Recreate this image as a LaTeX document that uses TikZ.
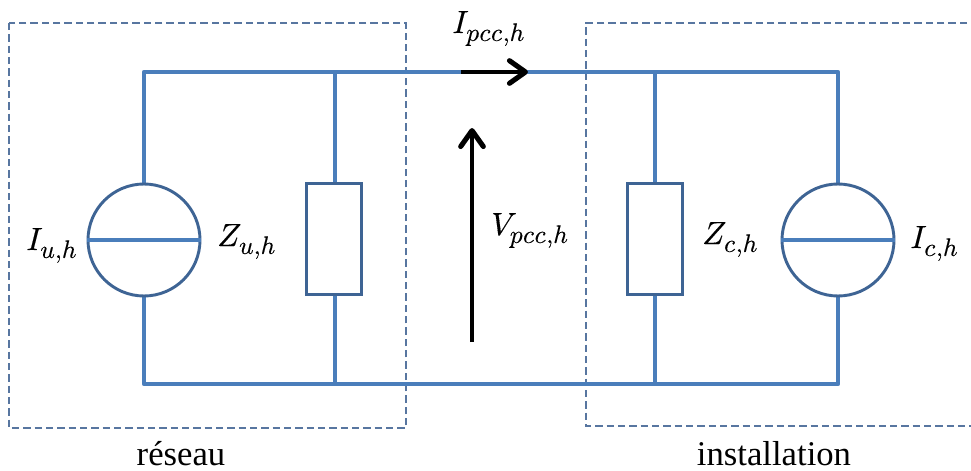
\documentclass[tikz,border=0pt]{standalone}
\usepackage{fontspec}
\usepackage{unicode-math}
\setmainfont{Liberation Serif}
\setmathfont[FakeBold=0.3]{Latin Modern Math}
\DeclareMathSizes{24}{24}{19}{14}
\usetikzlibrary{arrows.meta}
\definecolor{wire}{RGB}{74,126,187}
\definecolor{edge}{RGB}{62,100,148}
\definecolor{zonecol}{RGB}{88,118,160}
\tikzset{
  x=0.75pt,y=-0.75pt,
  wireline/.style={draw=wire,line width=3.4pt,line join=round},
  shapeline/.style={draw=edge,line width=2.2pt,fill=white},
  zone/.style={draw=zonecol,line width=1pt,dash pattern=on 5.5pt off 3pt},
  blackarrow/.style={draw=black,line width=3.2pt,-{Straight Barb[length=12pt,width=17pt,line width=3.8pt,round]}},
  mathlabel/.style={inner sep=0pt,anchor=base west,font=\fontsize{24}{26}\selectfont},
  caption/.style={inner sep=0pt,anchor=base,font=\fontsize{26}{28}\selectfont},
}
\begin{document}
\begin{tikzpicture}
\useasboundingbox (0,0) rectangle (971,471);
\coordinate (tl) at (144,72);
\coordinate (tr) at (838,72);
\coordinate (bl) at (144,384);
\coordinate (br) at (838,384);
\coordinate (tz) at (335,72);
\coordinate (bz) at (335,384);
\coordinate (tc) at (655,72);
\coordinate (bc) at (655,384);
\coordinate (zta) at (967,23);
\coordinate (ztb) at (586,23);
\coordinate (zba) at (586,426);
\coordinate (zbb) at (971,426);
\draw[zone] (9,23) rectangle (406,428);
\draw[zone] (zta) -- (ztb) -- (zba) -- (zbb);
\draw[wireline] (bl) -- (tl) -- (tr) -- (br) -- cycle;
\draw[wireline] (tz) -- (bz);
\draw[wireline] (tc) -- (bc);
\node[shapeline,circle,minimum size=84pt,inner sep=0pt] (su) at (144,240) {};
\node[shapeline,circle,minimum size=84pt,inner sep=0pt] (sc) at (838,240) {};
\draw[wireline] (su.west) -- (su.east);
\draw[wireline] (sc.west) -- (sc.east);
\node[shapeline,minimum width=41pt,minimum height=83pt,inner sep=0pt] (zu) at (334,239) {};
\node[shapeline,minimum width=41pt,minimum height=83pt,inner sep=0pt] (zc) at (655,239) {};
\coordinate (ia) at (461,72);
\coordinate (ib) at (528,72);
\coordinate (va) at (472,342);
\coordinate (vb) at (472,128);
\draw[blackarrow] (ia) -- (ib);
\draw[blackarrow] (va) -- (vb);
\node[mathlabel] (liu) at (26,250) {$I_{u,h}$};
\node[mathlabel] (lzu) at (217,246) {$Z_{u,h}$};
\node[mathlabel] (lip) at (452,33) {$I_{pcc,h}$};
\node[mathlabel] (lvp) at (491,235) {$V_{pcc,h}$};
\node[mathlabel] (lzc) at (702,244) {$Z_{c,h}$};
\node[mathlabel] (lic) at (910,248) {$I_{c,h}$};
\node[caption] (res) at (181,465) {réseau};
\node[caption] (ins) at (774,465) {installation};
\end{tikzpicture}
\end{document}
